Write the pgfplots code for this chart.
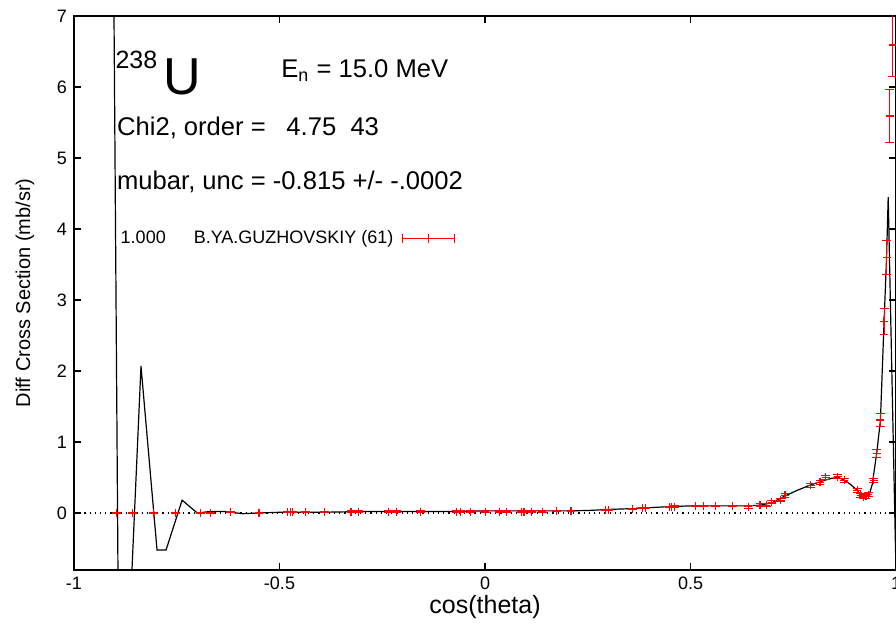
\documentclass[border=0pt]{standalone}
\usepackage{pgfplots}
\pgfplotsset{compat=1.18}
\usepackage{fontspec}
\setmainfont{Liberation Sans}
\begin{document}
\begin{tikzpicture}
\begin{axis}[
  scale only axis,
  width=411pt, height=276.9pt,
  xmin=-1, xmax=1, ymin=-0.8, ymax=7,
  xtick={-1,-0.5,0,0.5,1},
  ytick={0,1,2,3,4,5,6,7},
  minor tick num=0,
  tick align=inside,
  major tick length=3.5pt,
  tick style={black, line width=0.6pt},
  axis line style={line width=0.9pt},
  ticklabel style={font=\fontsize{9}{10}\selectfont},
  /pgf/number format/assume math mode=true,
  xticklabel style={/pgf/number format/fixed},
  every axis x label/.style={at={(axis description cs:0.5,-0.0668)}, anchor=center, font=\fontsize{12.5}{14}\selectfont},
  every axis y label/.style={at={(axis description cs:-0.0596,0.5)}, rotate=90, anchor=center, font=\fontsize{10}{12}\selectfont},
  xlabel={cos(theta)},
  ylabel={Diff Cross Section (mb/sr)},
  legend plot pos=right,
  legend style={draw=none, fill=none, at={(axis cs:-0.897,3.866)}, anchor=west,
    font=\fontsize{9}{10}\selectfont, inner sep=0pt, row sep=0pt},
  legend cell align=left,
  datapts/.style={red, only marks, mark=+, mark size=2pt, mark options={line width=0.6pt, red},
    error bars/y dir=both, error bars/y explicit,
    error bars/error bar style={red, line width=0.5pt},
    error bars/error mark options={rotate=90, red, mark size=2.2pt, line width=0.5pt}},
]
% zero reference line
\addplot[black, dotted, line width=0.6pt, forget plot] coordinates {(-1,0) (1,0)};
% fitted curve
\addplot[black, line width=0.6pt, forget plot] coordinates {
(-1.000,3.40) (-0.9995,9.0) (-0.9039,8.0) (-0.8918,-1.8) (-0.8605,-1.0)
(-0.837,2.07) (-0.798,-0.52) (-0.776,-0.52) (-0.737,0.18) (-0.700,0.00)
(-0.670,0.02) (-0.630,0.02) (-0.590,-0.01) (-0.550,0.00) (-0.500,0.01)
(-0.450,0.01) (-0.400,0.01) (-0.300,0.02) (-0.200,0.02) (-0.100,0.02)
(0.000,0.03) (0.100,0.03) (0.200,0.03) (0.250,0.035) (0.300,0.05)
(0.350,0.06) (0.400,0.075) (0.450,0.09) (0.500,0.10) (0.550,0.10)
(0.600,0.10) (0.640,0.10) (0.670,0.11) (0.700,0.15) (0.730,0.24)
(0.760,0.32) (0.790,0.39) (0.820,0.45) (0.845,0.49) (0.860,0.50)
(0.875,0.46) (0.890,0.40) (0.905,0.32) (0.915,0.25) (0.925,0.22)
(0.935,0.26) (0.942,0.40) (0.953,0.84) (0.962,1.30) (0.971,2.70)
(0.977,3.60) (0.981,4.45) (1.000,-0.85)
};
% experimental data
\addplot[datapts,
  legend image code/.code={
    \path (0pt,0pt);
    \draw[red, line width=0.5pt] (2.5pt,0pt) -- (28.5pt,0pt);
    \draw[red, line width=0.5pt] (2.5pt,-2.2pt) -- (2.5pt,2.2pt) (28.5pt,-2.2pt) -- (28.5pt,2.2pt) (15.5pt,-2.2pt) -- (15.5pt,2.2pt);
  }]
coordinates {
(-0.896,0.00) +- (0,0.01)
(-0.857,0.00) +- (0,0.01)
(-0.807,0.00) +- (0,0.01)
(-0.753,0.00) +- (0,0.01)
(-0.693,0.00) +- (0,0.01)
(-0.667,0.00) +- (0,0.01)
(-0.620,0.01) +- (0,0.01)
(-0.550,0.00) +- (0,0.01)
(-0.480,0.01) +- (0,0.01)
(-0.474,0.01) +- (0,0.01)
(-0.469,0.01) +- (0,0.01)
(-0.436,0.01) +- (0,0.01)
(-0.391,0.01) +- (0,0.01)
(-0.326,0.02) +- (0,0.01)
(-0.307,0.02) +- (0,0.01)
(-0.234,0.02) +- (0,0.01)
(-0.215,0.02) +- (0,0.01)
(-0.156,0.02) +- (0,0.01)
(-0.069,0.02) +- (0,0.01)
(-0.059,0.02) +- (0,0.01)
(-0.035,0.02) +- (0,0.01)
(0.001,0.02) +- (0,0.01)
(0.035,0.02) +- (0,0.01)
(0.053,0.02) +- (0,0.01)
(0.088,0.02) +- (0,0.01)
(0.095,0.02) +- (0,0.01)
(0.114,0.02) +- (0,0.01)
(0.139,0.02) +- (0,0.01)
(0.173,0.03) +- (0,0.01)
(0.209,0.03) +- (0,0.01)
(0.294,0.04) +- (0,0.01)
(0.300,0.04) +- (0,0.01)
(0.358,0.06) +- (0,0.01)
(0.383,0.07) +- (0,0.01)
(0.391,0.07) +- (0,0.01)
(0.448,0.085) +- (0,0.01)
(0.454,0.085) +- (0,0.01)
(0.462,0.09) +- (0,0.01)
(0.513,0.10) +- (0,0.01)
(0.531,0.10) +- (0,0.01)
(0.560,0.10) +- (0,0.01)
(0.603,0.10) +- (0,0.01)
(0.641,0.09) +- (0,0.02)
(0.669,0.11) +- (0,0.02)
(0.684,0.11) +- (0,0.02)
(0.698,0.15) +- (0,0.02)
(0.719,0.18) +- (0,0.02)
(0.730,0.25) +- (0,0.03)
(0.792,0.39) +- (0,0.03)
(0.815,0.43) +- (0,0.03)
(0.829,0.50) +- (0,0.03)
(0.858,0.51) +- (0,0.03)
(0.874,0.46) +- (0,0.03)
(0.906,0.32) +- (0,0.03)
(0.914,0.25) +- (0,0.03)
(0.920,0.23) +- (0,0.03)
(0.927,0.24) +- (0,0.03)
(0.933,0.26) +- (0,0.03)
(0.946,0.46) +- (0,0.03)
(0.953,0.84) +- (0,0.06)
(0.962,1.31) +- (0,0.09)
(0.971,2.70) +- (0,0.18)
(0.977,3.60) +- (0,0.24)
(0.9845,5.59) +- (0,0.37)
(0.992,6.59) +- (0,0.44)
};
\addlegendentry{1.000\hspace{14pt}B.YA.GUZHOVSKIY (61)}
% annotations
\node[anchor=base west, inner sep=0pt, font=\fontsize{12.5}{14}\selectfont] at (axis cs:-0.900,6.254) {238};
\node[anchor=base west, inner sep=0pt, font=\fontsize{26}{30}\selectfont] at (axis cs:-0.7835,5.90) {U};
\node[anchor=base west, inner sep=0pt, font=\fontsize{12.8}{14}\selectfont] at (axis cs:-0.4964,6.131) {E\textsubscript{n} = 15.0 MeV};
\node[anchor=base west, inner sep=0pt, font=\fontsize{12.8}{14}\selectfont] at (axis cs:-0.896,5.31) {Chi2, order =};
\node[anchor=base west, inner sep=0pt, font=\fontsize{12.8}{14}\selectfont] at (axis cs:-0.484,5.31) {4.75\ \ 43};
\node[anchor=base west, inner sep=0pt, font=\fontsize{12.8}{14}\selectfont] at (axis cs:-0.896,4.563) {mubar, unc = -0.815 +/- -.0002};
\end{axis}
\pgfresetboundingbox
\useasboundingbox ([xshift=-37pt,yshift=-29pt]current axis.south west) rectangle ([yshift=8pt]current axis.north east);
\end{tikzpicture}
\end{document}
